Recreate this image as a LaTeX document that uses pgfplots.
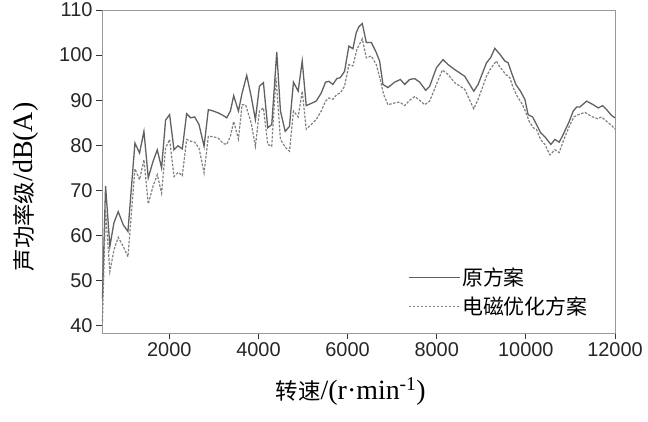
\documentclass[border=0pt]{standalone}
\usepackage{fontspec}
\setmainfont{Liberation Serif}
\setsansfont{Liberation Sans}
\newfontfamily\cjk{Noto Sans CJK SC}
\newcommand{\zh}[1]{{\cjk\fontsize{22.5}{29}\selectfont #1}}
\usepackage{pgfplots}
\pgfplotsset{compat=1.18}
\begin{document}
\begin{tikzpicture}
\begin{axis}[
  name=ax,
  scale only axis,
  width=513bp, height=323bp,
  xmin=490, xmax=12000, ymin=38.4, ymax=110,
  xtick={2000,4000,...,12000}, ytick={40,50,...,110},
  xtick pos=left, ytick pos=left,
  tick align=outside, major tick length=6bp,
  axis line style={draw=black!40, line width=0.8bp},
  tick style={black!80, line width=0.8bp},
  ticklabel style={font=\sffamily\fontsize{20}{20}\selectfont, text=black!85},
  /pgf/number format/assume math mode=true,
  /pgf/number format/1000 sep={},
  scaled x ticks=false,
  xlabel={\zh{转速}/(r·min\textsuperscript{-1})},
  ylabel={\zh{声功率级}/dB(A)},
  label style={font=\fontsize{28}{28}\selectfont},
  xlabel style={at={(axis description cs:0.485,-0.182)}, anchor=center},
  ylabel style={at={(axis description cs:-0.148,0.452)}, anchor=center},
  legend style={draw=none, fill=none, at={(axis description cs:0.59,0.215)}, anchor=north west,
    font=\cjk\fontsize{21}{21}\selectfont, row sep=6bp},
  legend cell align=left,
  legend image code/.code={\draw[#1] (0bp,0bp) -- (36bp,0bp); \path (36bp,0bp) -- (51bp,0bp);},
]
\addplot[color=black!62, line width=1.3bp] coordinates {
(500,46) (570,71.0) (667,57.6) (757,62.8) (854,65.3) (966,62.4) (1072,60.9)
(1229,80.5) (1333,78.3) (1431,83.1) (1528,72.8) (1634,76.4) (1730,79.0) (1827,75.0)
(1917,85.6) (2007,86.8) (2105,79.0) (2195,79.9) (2292,79.2) (2389,87.0) (2479,86.1)
(2569,86.3) (2667,84.6) (2780,79.8) (2876,87.9) (2989,87.6) (3094,87.2) (3213,86.6)
(3288,86.1) (3371,87.6) (3445,91.0) (3551,87.6) (3634,91.6) (3737,95.5) (3836,90.9)
(3932,85.7) (4022,93.1) (4112,93.9) (4209,83.9) (4299,84.6) (4411,100.7) (4494,87.6)
(4600,83.1) (4696,84.2) (4786,94.0) (4892,92.0) (4982,98.7) (5072,88.8) (5184,89.3)
(5296,89.8) (5409,91.6) (5505,94.0) (5580,94.2) (5670,93.5) (5760,94.8) (5835,95.0)
(5932,96.4) (6029,102.0) (6119,101.4) (6195,105.0) (6254,106.3) (6330,107.0) (6420,102.8)
(6532,102.8) (6629,100.9) (6719,98.7) (6793,93.5) (6905,92.8) (7056,94.0) (7184,94.6)
(7281,93.5) (7393,94.6) (7505,94.8) (7618,94.0) (7753,92.2) (7842,93.1) (7993,97.2)
(8141,99.0) (8254,97.9) (8404,96.8) (8629,95.3) (8831,92.0) (8928,93.5) (9117,98.3)
(9207,99.4) (9303,101.5) (9416,100.2) (9528,98.7) (9602,98.3) (9678,96.1) (9775,93.5)
(9880,92.0) (9977,90.2) (10051,86.8) (10150,86.3) (10240,84.6) (10330,82.8) (10426,81.9)
(10561,80.2) (10651,81.3) (10748,80.7) (10838,82.4) (10973,85.3) (11063,87.6) (11139,88.5)
(11213,88.5) (11364,89.8) (11512,89.0) (11625,88.3) (11723,88.8) (11813,87.9) (11925,86.6)
(12000,86.1)
};
\addlegendentry{原方案}
\addplot[color=black!50, line width=1.2bp, dash pattern=on 2.5bp off 1.5bp] coordinates {
(500,41) (569,65.7) (667,52.0) (757,56.8) (854,59.6) (966,57.6) (1072,55.3)
(1229,74.8) (1333,72.4) (1431,76.8) (1528,67.0) (1634,70.9) (1730,73.5) (1827,69.4)
(1917,79.4) (2007,81.3) (2105,73.1) (2195,74.0) (2292,73.3) (2389,81.3) (2479,80.9)
(2569,80.7) (2667,79.4) (2780,73.9) (2876,82.0) (2989,81.9) (3094,81.6) (3213,80.4)
(3288,80.2) (3371,82.0) (3445,85.3) (3551,81.4) (3634,89.0) (3712,89.0) (3836,85.0)
(3932,79.8) (4022,87.6) (4112,88.3) (4209,80.2) (4299,79.8) (4394,95.0) (4494,81.3)
(4600,79.6) (4696,78.7) (4786,87.6) (4892,86.3) (4982,92.0) (5072,83.6) (5184,84.6)
(5296,85.7) (5409,87.6) (5505,89.8) (5580,90.5) (5670,90.2) (5760,91.3) (5835,91.6)
(5932,93.1) (6029,97.9) (6119,97.6) (6210,101.3) (6330,103.6) (6420,99.4) (6532,99.8)
(6644,97.9) (6733,94.6) (6808,91.3) (6905,89.0) (7056,89.4) (7169,89.6) (7281,88.8)
(7393,90.0) (7505,90.8) (7618,90.0) (7730,89.0) (7842,89.8) (7993,93.5) (8126,96.7)
(8254,95.7) (8404,93.9) (8629,92.4) (8831,88.1) (8928,90.2) (9117,95.3) (9207,97.0)
(9337,98.7) (9416,97.4) (9550,95.7) (9640,95.0) (9715,92.8) (9805,90.9) (9902,89.4)
(9977,87.9) (10075,85.3) (10165,83.9) (10240,83.5) (10330,81.3) (10426,80.2) (10538,77.9)
(10651,79.0) (10748,78.4) (10838,80.9) (10973,84.2) (11078,86.3) (11176,86.8) (11326,87.3)
(11475,86.4) (11610,85.9) (11700,86.3) (11813,85.3) (11925,84.4) (12000,83.6)
};
\addlegendentry{电磁优化方案}
\end{axis}
\pgfresetboundingbox
\path ([shift={(-102bp,-89bp)}]ax.south west) rectangle ([shift={(33bp,10bp)}]ax.north east);
\end{tikzpicture}
\end{document}
